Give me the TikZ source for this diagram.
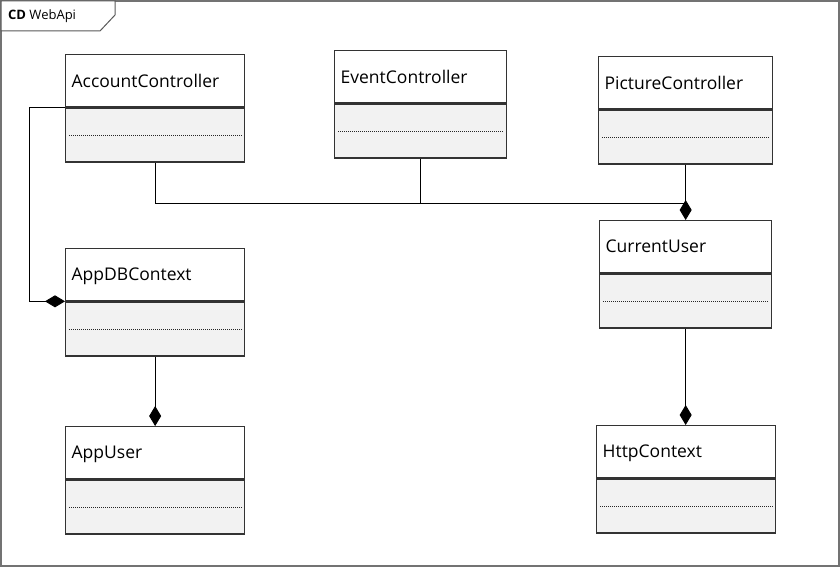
\documentclass[tikz,border=0pt]{standalone}
\usepackage{fontspec}
\setmainfont{Open Sans}
\usetikzlibrary{positioning, arrows.meta}

\tikzset{
  classname/.style={draw=black!80, line width=1.3pt, fill=white, anchor=north west,
    minimum height=52pt, inner xsep=6pt, text depth=0pt, font=\fontsize{17.5}{20}\selectfont,
    align=left},
  classbody/.style={draw=black!80, line width=1.3pt, fill=black!5, anchor=north,
    minimum height=54pt},
  members/.style={black!85, line width=0.8pt, dash pattern=on 1.2pt off 0.8pt},
  assoc/.style={draw=black, line width=0.9pt},
  compose/.style={assoc, -{Diamond[length=20pt, width=12pt]}}
}

\begin{document}
\begin{tikzpicture}[x=1pt, y=-1pt]
    \useasboundingbox (0,0) rectangle (840,567);

    % Frame and its tab
    \draw[black!55, line width=1.5pt] (1,1) rectangle (839,566);
    \draw[black!65, line width=1pt, fill=white] (1,1) -- (115,1) -- (115,15) -- (100,31) -- (1,31) -- cycle;
    \node[anchor=west, font=\fontsize{13}{15}\selectfont, inner sep=0pt] (frame) at (8,16) {\textbf{CD} WebApi};

    % Classes: name/text/x/y/width
    \foreach \n/\t/\x/\y/\w in {acc/AccountController/65/54/179, evt/EventController/334/50/172,
                               pic/PictureController/598/56/174, db/AppDBContext/65/248/179,
                               cur/CurrentUser/599/220/172, usr/AppUser/65/426/179,
                               http/HttpContext/596/425/179} {
      % Name compartment and member compartment
      \node[classname, text width=\w pt - 12pt, minimum width=\w pt] (\n) at (\x,\y) {\t};
      \node[classbody, minimum width=\w pt] (\n-b) at (\n.south) {};
      \draw[members] ([xshift=4pt]\n-b.west) -- ([xshift=-4pt]\n-b.east);
    }

    % Connectors
    \coordinate (hub) at (685,203);
    \draw[assoc] (acc-b.south) |- (hub);
    \draw[assoc] (evt-b.south) -- (evt-b.south |- hub);
    \draw[compose] (pic-b.south -| cur.north) -- (cur.north);
    \draw[compose] (acc.south west) -- ++(-36,0) |- (db.south west);
    \draw[compose] (db-b.south) -- (usr.north);
    \draw[compose] (cur-b.south) -- (cur-b.south |- http.north);

  \end{tikzpicture}
\end{document}
